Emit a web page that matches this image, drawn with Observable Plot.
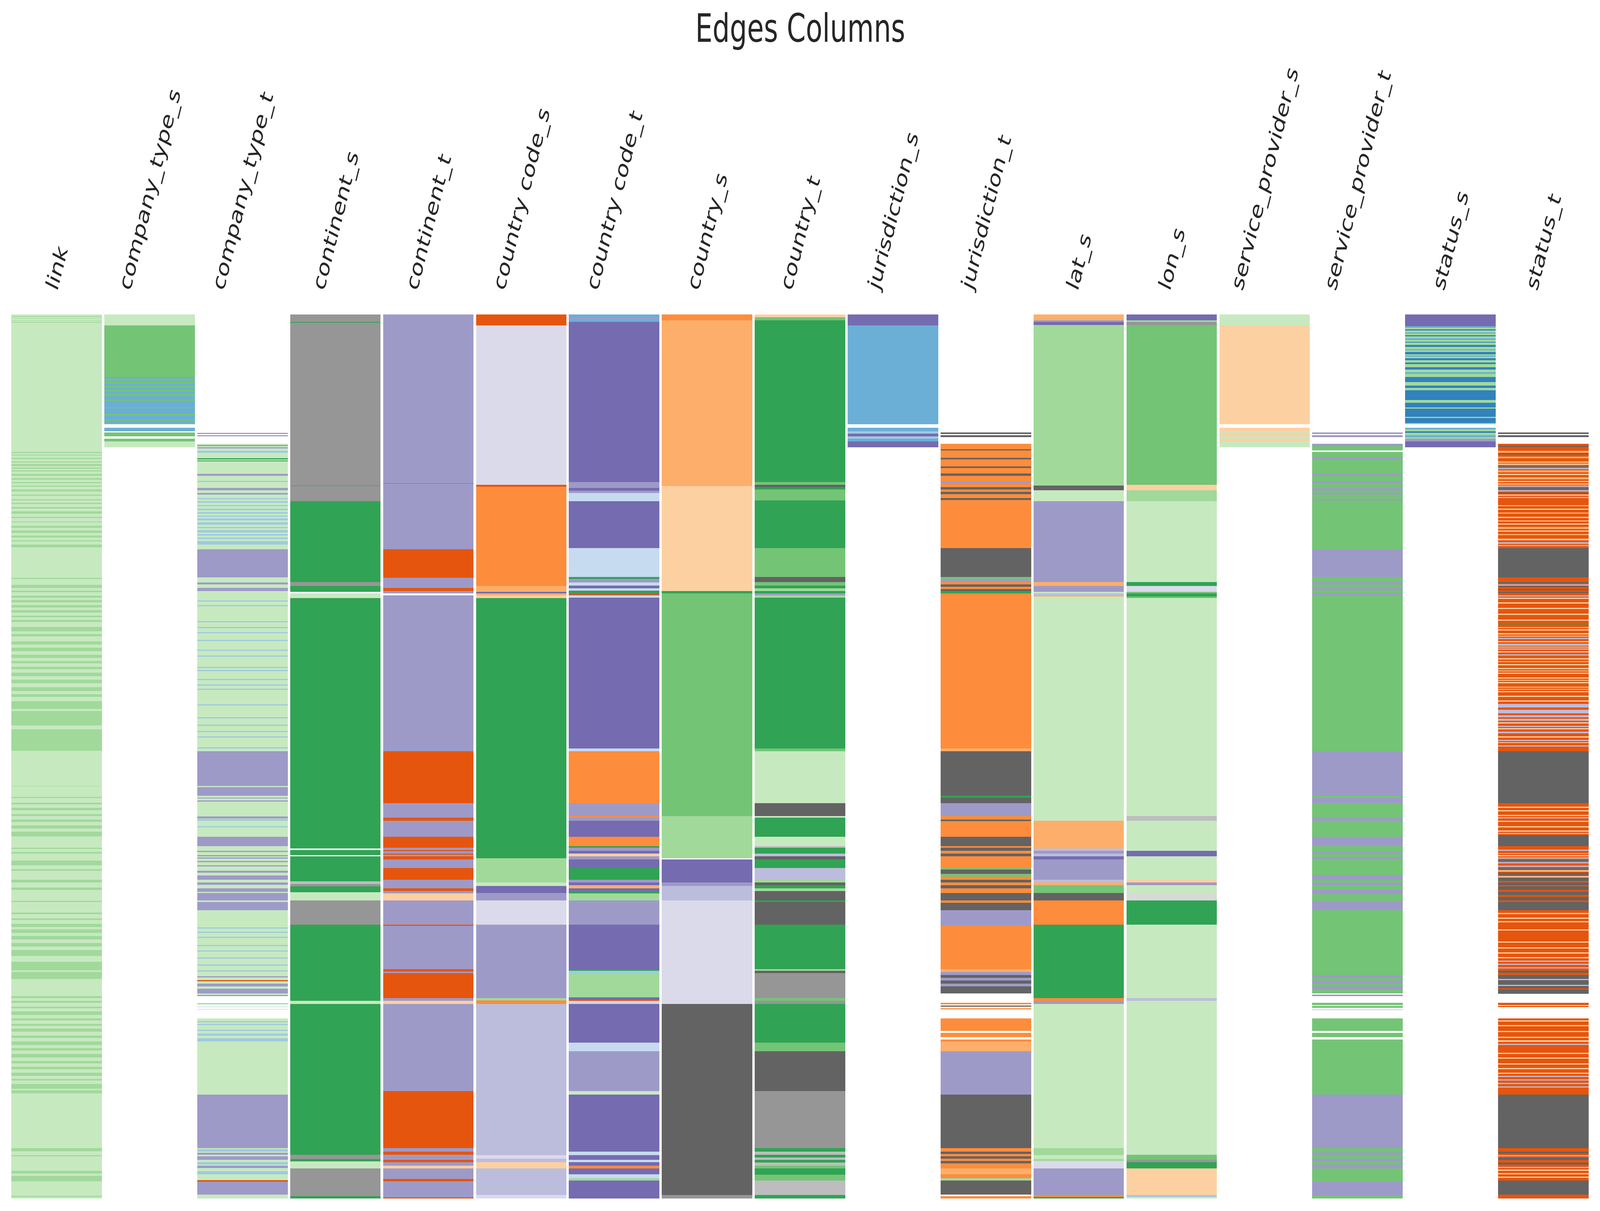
<!DOCTYPE html>
<html><head><meta charset="utf-8">
<script src="https://cdn.jsdelivr.net/npm/d3@7"></script>
<script src="https://cdn.jsdelivr.net/npm/@observablehq/plot@0.6"></script>
<style>
html,body{margin:0;padding:0;background:#fff;overflow:hidden}
#chart{width:100vw;height:100vh}
</style>
</head><body><div id="chart"></div>
<script>
const columns = ["link","company_type_s","company_type_t","continent_s","continent_t","country code_s","country code_t","country_s","country_t","jurisdiction_s","jurisdiction_t","lat_s","lon_s","service_provider_s","service_provider_t","status_s","status_t"];
const rowCount = 1530;
const colorCodes = ["B1","B2","B3","B4","O1","O2","O3","O4","G1","G2","G3","G4","P1","P2","P3","P4","K1","K2","K3","K4"];
const colorHexes = ["#3182bd","#6baed6","#9ecae1","#c6dbef","#e6550d","#fd8d3c","#fdae6b","#fdd0a2","#31a354","#74c476","#a1d99b","#c7e9c0","#756bb1","#9e9ac8","#bcbddc","#dadaeb","#636363","#969696","#bdbdbd","#d9d9d9"];

const linkBase = [[0,1530,"G4"]];
const linkStripes = [[3,4],[6,7],[10,11],[13,14],
[238,240],[243,244],[248,250],[254,256],[259,262],[265,267],[270,272],[276,279],[283,286],[290,292],[296,298],[303,306],[312,314],[320,322],[326,328],[333,336],[341,345],[350,352],[358,360],[366,369],[374,378],[383,386],[391,393],[398,403],
[456,458],[468,473],[478,481],[487,490],[494,498],[503,507],[512,516],[521,524],[529,532],[541,548],[553,557],[566,571],[577,583],[589,594],[600,604],[610,614],[620,626],[632,638],[645,652],[657,662],[669,683],[686,711],[718,755],
[816,817],[835,837],[845,848],[854,858],[865,868],[874,878],[884,890],[895,903],
[923,925],[930,933],[945,953],[960,963],[978,983],[992,996],[1015,1017],
[1035,1038],[1045,1048],[1055,1060],[1064,1070],[1076,1082],[1088,1094],[1100,1110],[1120,1135],[1138,1150],
[1180,1183],[1188,1191],[1198,1201],[1206,1212],[1218,1222],[1228,1231],[1236,1241],[1248,1252],[1258,1264],[1270,1274],[1280,1286],[1292,1296],[1302,1306],[1312,1318],[1323,1326],[1332,1340],[1343,1348],
[1443,1448],[1455,1457],[1482,1487],[1491,1500],[1525,1527]];

const companyTypeS = [[0,19,"G4"],[19,190,"G2"],[108,111,"B2"],[114,116,"B2"],[120,123,"B2"],[127,130,"B2"],[134,137,"B2"],[141,148,"B2"],[150,160,"B2"],[162,172,"B2"],[175,182,"B2"],[184,188,"B2"],[196,202,"B2"],[204,211,"G2"],[215,220,"G2"],[220,230,"G4"]];

const companyTypeT = [[224,1180,"G4"],[1218,1530,"G4"],
[205,207,"P2"],[209,211,"P2"],[226,228,"P2"],[230,232,"P2"],[236,239,"B3"],[249,251,"G1"],[253,254,"G1"],[276,279,"P2"],[288,290,"B3"],[300,304,"P2"],[309,312,"P2"],
[318,320,"B3"],[323,326,"B3"],[330,332,"B3"],[336,339,"B3"],[342,345,"B3"],[348,350,"B3"],[353,356,"B3"],[360,364,"B3"],[368,370,"B3"],[373,377,"B3"],[380,383,"B3"],[386,389,"B3"],[392,398,"B3"],
[406,455,"P2"],[464,467,"P2"],[473,479,"P2"],
[495,497,"B3"],[503,505,"B3"],[531,533,"B3"],[541,543,"B3"],[550,552,"B3"],[563,565,"B3"],[580,582,"B3"],[590,592,"B3"],[610,612,"B3"],[615,617,"B3"],[631,633,"B3"],[640,642,"B3"],[648,650,"B3"],[675,677,"B3"],[697,699,"B3"],[710,712,"B3"],[721,723,"B3"],[730,732,"B3"],[749,751,"B3"],
[756,816,"P2"],[818,833,"P2"],[836,838,"P2"],[841,843,"P2"],[869,872,"P2"],[873,876,"B3"],[886,888,"B3"],[904,920,"P2"],
[928,930,"P2"],[936,938,"P2"],[940,942,"P2"],[946,948,"P2"],[953,955,"P2"],[963,966,"P2"],[971,978,"P2"],[983,987,"P2"],[993,999,"P2"],[1001,1014,"P2"],[1017,1031,"P2"],
[1061,1063,"B3"],[1068,1070,"B3"],[1077,1079,"B3"],[1091,1093,"B3"],[1101,1103,"B3"],[1113,1115,"B3"],[1125,1127,"B3"],[1135,1137,"B3"],
[1145,1147,"P2"],[1152,1154,"O1"],[1158,1163,"P2"],[1167,1175,"P2"],[1178,1180,"P2"],
[1192,1194,"G3"],[1198,1199,"B3"],[1202,1203,"P3"],
[1223,1225,"B3"],[1228,1230,"B3"],[1238,1240,"B3"],[1245,1248,"B3"],[1253,1258,"B3"],
[1350,1443,"P2"],[1445,1449,"B3"],[1451,1454,"P2"],[1457,1463,"P2"],[1467,1471,"B3"],[1473,1477,"P2"],[1483,1488,"B3"],[1498,1501,"O1"],[1501,1523,"P2"]];

const continentS = [[0,13,"K2"],[13,14,"G1"],[14,296,"K2"],[296,297,"G1"],[297,323,"K2"],[323,463,"G1"],[463,470,"K2"],[470,480,"G1"],[483,491,"G4"],[491,924,"G1"],[927,936,"G1"],[938,981,"G1"],[981,986,"K3"],[986,990,"K2"],[990,1000,"G1"],[1000,1014,"G4"],[1014,1056,"K2"],[1056,1188,"G1"],[1188,1193,"G4"],[1193,1454,"G1"],[1454,1462,"K2"],[1462,1466,"G1"],[1466,1478,"G4"],[1478,1526,"K2"],[1526,1530,"G1"]];

const continentT = [[0,292,"P2"],[292,293,"P1"],[293,406,"P2"],[406,456,"O1"],[456,473,"P2"],[473,479,"O1"],[479,483,"P2"],[486,756,"P2"],[756,846,"O1"],[846,871,"P2"],[871,876,"O1"],[876,904,"P2"],[904,923,"O1"],[923,938,"P2"],[927,929,"O1"],[933,935,"O1"],[938,943,"O1"],[943,958,"P2"],[958,978,"O1"],[978,993,"P2"],[993,998,"O1"],[998,1002,"P2"],[1002,1014,"O4"],[1014,1056,"P2"],[1056,1058,"O1"],[1058,1133,"P2"],[1133,1137,"O1"],[1137,1140,"P2"],[1140,1183,"O1"],[1183,1188,"P2"],[1188,1193,"O4"],[1193,1344,"P2"],[1344,1443,"O1"],[1443,1449,"P2"],[1449,1454,"O1"],[1454,1463,"P2"],[1463,1467,"O1"],[1467,1473,"P2"],[1473,1478,"O4"],[1478,1496,"P2"],[1496,1500,"O1"],[1500,1528,"P2"],[1528,1530,"O1"]];

const countryCodeS = [[0,19,"O1"],[19,295,"P4"],[295,298,"O1"],[298,470,"O2"],[470,480,"O3"],[480,483,"P1"],[483,486,"O3"],[486,491,"O4"],[491,941,"G1"],[941,983,"G3"],[983,989,"G4"],[989,1001,"P1"],[1001,1014,"P2"],[1014,1056,"P4"],[1056,1183,"P2"],[1183,1187,"G3"],[1187,1193,"O2"],[1193,1455,"P3"],[1455,1461,"P4"],[1461,1467,"P3"],[1467,1478,"O4"],[1478,1524,"P3"],[1524,1530,"P4"]];

const countryCodeT = [[0,5,"B2"],[5,9,"P2"],[9,13,"B2"],[13,290,"P1"],[290,300,"P2"],[300,305,"P1"],[305,309,"P2"],[309,323,"B4"],[323,404,"P1"],[404,454,"B4"],[454,458,"G1"],[458,464,"P2"],[464,469,"B4"],[469,474,"P1"],[474,478,"B4"],[478,482,"G1"],[482,484,"P1"],[484,486,"O1"],[486,490,"B4"],[490,751,"P1"],[751,756,"B4"],[756,846,"O2"],[846,868,"P2"],[868,871,"O2"],[871,876,"P2"],[876,904,"P1"],[904,920,"O2"],[920,923,"G1"],[923,928,"P2"],[928,933,"P1"],[933,938,"O4"],[938,943,"P2"],[943,958,"P1"],[958,978,"G1"],[978,983,"P2"],[983,988,"P1"],[988,993,"O3"],[993,998,"P1"],[998,1002,"G1"],[1002,1014,"G3"],[1014,1056,"P2"],[1056,1133,"P1"],[1133,1136,"G1"],[1136,1140,"B3"],[1140,1182,"G3"],[1182,1185,"P1"],[1185,1188,"O1"],[1188,1193,"B4"],[1193,1260,"P1"],[1260,1275,"B4"],[1275,1344,"P2"],[1344,1350,"G4"],[1350,1449,"P1"],[1449,1455,"B4"],[1455,1463,"P1"],[1463,1467,"B4"],[1467,1473,"P1"],[1473,1478,"O2"],[1478,1488,"P1"],[1488,1495,"B4"],[1495,1499,"G3"],[1499,1530,"P1"]];

const countryS = [[0,10,"O2"],[10,297,"O3"],[297,479,"O4"],[479,483,"G1"],[483,868,"G2"],[868,941,"G3"],[943,983,"P1"],[983,989,"P2"],[989,1014,"P3"],[1014,1193,"P4"],[1193,1524,"K1"],[1524,1530,"K2"]];

const countryT = [[0,5,"O4"],[5,10,"G2"],[10,290,"G1"],[290,295,"G2"],[295,299,"K1"],[299,303,"G1"],[303,322,"G2"],[322,404,"G1"],[404,454,"G2"],[454,463,"K1"],[463,469,"G2"],[469,474,"G1"],[474,479,"G3"],[479,483,"G1"],[483,486,"P2"],[486,490,"G3"],[490,751,"G1"],[751,756,"G2"],[756,846,"G4"],[846,868,"K1"],[868,871,"G4"],[871,904,"G1"],[904,920,"G4"],[920,923,"K3"],[923,933,"G1"],[933,938,"P3"],[938,943,"K1"],[943,958,"G1"],[958,978,"P3"],[978,983,"G3"],[983,988,"K1"],[988,993,"G1"],[993,998,"G3"],[998,1014,"K1"],[1014,1017,"G1"],[1017,1056,"K1"],[1056,1133,"G1"],[1133,1136,"G3"],[1136,1140,"K1"],[1140,1183,"K2"],[1183,1188,"G2"],[1188,1193,"K2"],[1193,1260,"G1"],[1260,1275,"G2"],[1275,1344,"K1"],[1344,1443,"K2"],[1443,1449,"G1"],[1449,1454,"K3"],[1454,1459,"G1"],[1459,1463,"K3"],[1463,1468,"G1"],[1468,1473,"K3"],[1473,1478,"G2"],[1478,1489,"G1"],[1489,1499,"G2"],[1499,1524,"K3"],[1524,1530,"G1"]];

const jurisdictionS = [[0,19,"P1"],[19,190,"B2"],[196,202,"B2"],[202,206,"B3"],[206,211,"P1"],[211,215,"B3"],[215,220,"B2"],[220,230,"P1"]];

const jurisdictionT = [[204,207,"K1"],[209,212,"K1"],
[224,233,"O2"],[233,235,"K1"],[235,248,"O2"],[248,251,"K1"],[251,263,"O2"],[263,266,"K1"],[266,275,"O2"],[275,279,"K1"],[279,289,"O2"],[289,293,"P2"],[293,299,"O2"],[299,303,"K1"],[303,307,"O2"],[307,311,"K1"],[311,318,"O2"],[318,321,"K1"],[321,404,"O2"],[404,454,"K1"],[454,458,"G2"],[458,463,"P2"],[463,467,"O2"],[467,471,"K1"],[471,475,"O2"],[475,479,"K1"],[479,483,"G1"],[483,751,"O2"],[751,756,"O3"],[756,833,"K1"],[833,836,"G1"],[836,846,"K1"],[846,868,"P2"],[868,874,"O2"],[874,877,"K1"],[877,904,"O2"],[904,920,"K1"],[920,923,"O2"],[923,928,"K1"],[928,933,"O2"],[933,938,"K1"],[938,958,"O2"],[958,961,"G2"],[961,968,"K1"],[968,973,"G2"],[973,978,"O2"],[978,983,"K1"],[983,988,"O2"],[988,993,"K1"],[993,1001,"O2"],[1001,1014,"K1"],[1014,1018,"O2"],[1018,1031,"K1"],[1031,1058,"P2"],[1058,1133,"O2"],[1133,1138,"O3"],[1138,1143,"P2"],[1143,1148,"K1"],[1148,1153,"P2"],[1153,1158,"K1"],[1158,1163,"P2"],[1163,1175,"K1"],
[1191,1194,"O2"],[1196,1198,"K1"],[1201,1203,"O2"],
[1218,1240,"O2"],[1243,1251,"O2"],[1255,1258,"O2"],[1258,1275,"O3"],[1275,1350,"P2"],[1350,1443,"K1"],[1443,1449,"O2"],[1449,1453,"K1"],[1453,1457,"O2"],[1457,1461,"K1"],[1461,1465,"O2"],[1465,1469,"K1"],[1469,1478,"O2"],[1478,1488,"O3"],[1488,1495,"O2"],[1495,1499,"G3"],[1499,1523,"K1"],[1526,1530,"O2"]];

const latS = [[0,10,"O3"],[10,13,"P2"],[13,18,"P1"],[18,296,"G3"],[296,304,"K1"],[304,323,"G4"],[323,463,"P2"],[463,470,"O3"],[470,480,"P2"],[480,483,"G4"],[483,486,"P3"],[486,488,"O3"],[488,876,"G4"],[876,924,"O3"],[924,928,"P3"],[928,933,"P2"],[933,938,"P3"],[938,943,"P1"],[943,978,"P2"],[978,983,"P3"],[983,988,"O3"],[988,1001,"G2"],[1001,1014,"K1"],[1014,1056,"O2"],[1056,1183,"G1"],[1183,1188,"O2"],[1188,1193,"P2"],[1193,1443,"G4"],[1443,1455,"G3"],[1455,1462,"G4"],[1462,1465,"G3"],[1465,1478,"P4"],[1478,1524,"P2"],[1524,1527,"O2"],[1527,1530,"G1"]];

const lonS = [[0,10,"P1"],[10,13,"G3"],[13,18,"K2"],[18,295,"G2"],[295,304,"O4"],[304,323,"G3"],[323,463,"G4"],[463,470,"G1"],[470,480,"P4"],[480,483,"G2"],[483,488,"G1"],[488,491,"G2"],[491,868,"G4"],[868,876,"K3"],[876,928,"G4"],[928,938,"P1"],[938,978,"G4"],[978,983,"O4"],[983,988,"P2"],[988,1001,"G4"],[1001,1014,"K4"],[1014,1056,"G1"],[1056,1183,"G4"],[1183,1188,"P3"],[1188,1454,"G4"],[1454,1463,"G2"],[1463,1467,"K2"],[1467,1478,"G1"],[1478,1524,"O4"],[1524,1527,"B3"],[1527,1530,"G4"]];

const serviceProviderS = [[0,19,"G4"],[19,190,"O4"],[196,202,"O4"],[202,205,"G4"],[205,211,"O4"],[211,215,"G4"],[215,220,"O4"],[220,230,"G4"]];

const serviceProviderT = [[204,207,"P2"],[209,212,"P2"],
[224,228,"P2"],[228,235,"G2"],[238,248,"G2"],[248,251,"P2"],[251,276,"G2"],[276,279,"P2"],[279,289,"G2"],[289,292,"P2"],[292,300,"G2"],[300,304,"P2"],[304,308,"G2"],[308,312,"P2"],[312,319,"G2"],[319,322,"P2"],[322,406,"G2"],[406,454,"P2"],[454,463,"G2"],[463,467,"P2"],[467,473,"G2"],[473,477,"P2"],[477,483,"G2"],[483,486,"P2"],[486,756,"G2"],[756,833,"P2"],[833,836,"G2"],[836,846,"P2"],[846,871,"G2"],[871,876,"P2"],[876,904,"G2"],[904,920,"P2"],[920,930,"G2"],[930,934,"P2"],[934,939,"G2"],[939,943,"P2"],[943,970,"G2"],[970,978,"P2"],[978,983,"G2"],[983,988,"P2"],[988,995,"G2"],[995,1003,"P2"],[1003,1015,"G2"],[1015,1031,"P2"],[1031,1143,"G2"],[1143,1148,"P2"],[1148,1153,"G2"],[1153,1158,"P2"],[1158,1163,"G2"],[1163,1168,"P2"],[1168,1175,"G2"],[1177,1180,"P2"],
[1191,1195,"G2"],[1197,1200,"G2"],[1202,1204,"P4"],
[1218,1240,"G2"],[1243,1251,"G2"],[1255,1350,"G2"],[1350,1443,"P2"],[1443,1450,"G2"],[1450,1454,"P2"],[1454,1461,"G2"],[1461,1466,"P2"],[1466,1471,"G2"],[1471,1478,"P2"],[1478,1501,"G2"],[1501,1525,"P2"],[1525,1530,"G2"]];

const statusS = [[0,20,"P1"],[20,190,"G3"],
[20,23,"B2"],[26,28,"B1"],[31,33,"B2"],[36,38,"B1"],[41,44,"B2"],[47,49,"B1"],[53,56,"B1"],[60,62,"B2"],[65,69,"B1"],[71,73,"B2"],[76,79,"B1"],[83,86,"B1"],[91,95,"B1"],[100,103,"B2"],[108,117,"B1"],[123,127,"B1"],[131,148,"B1"],[153,161,"B1"],[163,177,"B1"],[179,188,"B1"],
[196,199,"B2"],[199,202,"G3"],[202,205,"B1"],[205,209,"G3"],[209,212,"B2"],[212,215,"G3"],[215,220,"P2"],[220,230,"P1"]];

const statusT = [[204,207,"K1"],[209,212,"K1"],[224,404,"O1"],[404,455,"K1"],[455,756,"O1"],[756,846,"K1"],[846,901,"O1"],[901,920,"K1"],[920,983,"O1"],[983,1031,"K1"],[1031,1143,"O1"],[1143,1176,"K1"],[1191,1195,"O1"],[1197,1199,"O1"],[1218,1350,"O1"],[1350,1443,"K1"],[1443,1530,"O1"],
[227,229,"K1"],[240,242,"K1"],[262,264,"K1"],[300,303,"K1"],[308,310,"K1"],
[236,239,"O3"],[246,249,"O3"],[254,257,"O3"],[270,273,"O3"],[282,285,"O3"],[292,295,"O3"],[330,332,"O3"],[343,345,"O3"],[356,358,"O3"],[368,371,"O3"],[380,382,"O3"],
[258,260,"O4"],[276,278,"O4"],[288,290,"O4"],[312,314,"O4"],[336,338,"O4"],[350,352,"O4"],[362,364,"O4"],[374,376,"O4"],[388,391,"O4"],
[266,268,"P3"],[296,298,"P3"],[304,306,"P3"],[316,318,"P3"],[394,397,"P3"],[399,401,"P3"],
[463,465,"K1"],[470,472,"K1"],[475,477,"K1"],[480,482,"K1"],
[467,469,"P3"],[486,488,"P3"],[560,562,"P3"],[570,573,"P3"],[578,580,"P3"],[588,590,"P3"],[674,680,"P3"],[684,690,"P3"],[694,697,"P3"],[700,703,"P3"],[712,714,"P3"],[722,725,"P3"],[736,738,"P3"],[746,748,"P3"],
[490,492,"O4"],[498,500,"O4"],[508,510,"O4"],[518,520,"O4"],[528,530,"O4"],[545,547,"O4"],[552,554,"O4"],[565,567,"O4"],[583,585,"O4"],[595,597,"O4"],[605,607,"O4"],[612,614,"O4"],[620,622,"O4"],[628,630,"O4"],[636,638,"O4"],[644,646,"O4"],[652,654,"O4"],[660,662,"O4"],[668,670,"O4"],[706,708,"O4"],[716,718,"O4"],[730,732,"O4"],[740,742,"O4"],
[537,539,"G1"],
[541,543,"O3"],[556,558,"O3"],[575,577,"O3"],[600,602,"O3"],[616,618,"O3"],[632,634,"O3"],[648,650,"O3"],
[852,854,"O4"],[858,860,"O4"],[866,868,"O4"],[876,878,"O4"],[886,888,"O4"],[893,895,"O4"],[870,872,"P3"],[897,899,"P3"],
[926,928,"P3"],[932,934,"P3"],[940,942,"P3"],[948,950,"P3"],[954,956,"P3"],[944,946,"K1"],[958,960,"K1"],[966,970,"K1"],[975,980,"K1"],[936,938,"O4"],[962,964,"O4"],[972,974,"O4"],
[988,990,"O1"],[996,999,"O1"],[1005,1008,"O1"],[1014,1017,"O1"],
[1036,1038,"O4"],[1044,1046,"O4"],[1050,1052,"O4"],[1064,1066,"O4"],[1085,1087,"O4"],[1095,1097,"O4"],[1104,1106,"O4"],[1112,1114,"O4"],[1118,1120,"P3"],[1124,1126,"P3"],[1130,1132,"P3"],[1136,1139,"K1"],
[1150,1152,"P3"],[1160,1162,"P3"],[1166,1168,"O1"],
[1222,1224,"O4"],[1230,1232,"O4"],[1240,1242,"O4"],[1250,1252,"O4"],[1256,1259,"O4"],[1278,1280,"O4"],[1286,1288,"O4"],[1296,1298,"O4"],[1304,1306,"O4"],[1312,1314,"O4"],[1262,1264,"P3"],[1318,1320,"P3"],[1324,1326,"P3"],[1330,1332,"P3"],[1336,1338,"P3"],
[1449,1452,"K1"],[1460,1463,"K1"],[1468,1471,"K1"],[1455,1457,"P3"],[1475,1477,"P3"],[1480,1482,"O4"],[1486,1488,"O4"],[1492,1494,"O4"],[1499,1523,"K1"]];

const link = linkBase.concat(linkStripes.map(([a, b]) => [a, b, "G3"]));
const columnData = [link, companyTypeS, companyTypeT, continentS, continentT, countryCodeS, countryCodeT, countryS, countryT, jurisdictionS, jurisdictionT, latS, lonS, serviceProviderS, serviceProviderT, statusS, statusT];
const cells = columns.flatMap((c, i) => columnData[i].map(([y1, y2, code]) => ({column: c, y1, y2, code})));

const W = 5872, H = 3100;
const labelRotate = -70;
const plot = Plot.plot({
  width: W, height: H,
  marginTop: 805, marginBottom: 32, marginLeft: 34, marginRight: 33,
  x: {domain: columns, paddingInner: 0.0263, paddingOuter: 0, axis: null},
  y: {domain: [0, rowCount], reverse: true, axis: null},
  color: {type: "ordinal", domain: colorCodes, range: colorHexes},
  style: {fontFamily: "'DejaVu Sans', sans-serif", background: "white"},
  marks: [
    Plot.barY(cells, {x: "column", y1: "y1", y2: "y2", fill: "code", shapeRendering: "crispEdges"}),
    Plot.text(columns, {x: d => d, text: d => d, frameAnchor: "top", rotate: labelRotate, textAnchor: "middle", lineAnchor: "middle", fontSize: 65, fill: "#262626"}),
    Plot.text(["Edges Columns"], {frameAnchor: "top", dy: -731, text: d => d, fontSize: 100, fill: "#262626", lineAnchor: "middle"})
  ]
});
// the chart is laid out in a 5872×3100 coordinate system and fills whatever window it is shown in
plot.setAttribute("viewBox", `0 0 ${W} ${H}`);
plot.setAttribute("preserveAspectRatio", "none");
plot.style.width = "100vw";
plot.style.height = "100vh";
plot.style.maxWidth = "none";
plot.style.display = "block";
document.getElementById("chart").append(plot);

// Align each rotated label like matplotlib (ha="center", va="bottom"):
// keep Plot's x (the column centre), centre the rotated box on it and put its bottom at a fixed height.
const labelBottom = 752;
const th = labelRotate * Math.PI / 180;
plot.querySelectorAll("text").forEach((el) => {
  if (columns.indexOf(el.textContent) < 0) return;
  const m = /translate\(\s*([-\d.e]+)[ ,]+([-\d.e]+)\s*\)/.exec(el.getAttribute("transform") || "");
  if (!m) return;
  const cx = +m[1];
  el.setAttribute("transform", `rotate(${labelRotate})`);
  const b = el.getBBox();
  const pts = [[b.x, b.y], [b.x + b.width, b.y], [b.x, b.y + b.height], [b.x + b.width, b.y + b.height]]
    .map(([x, y]) => [x * Math.cos(th) - y * Math.sin(th), x * Math.sin(th) + y * Math.cos(th)]);
  const minX = Math.min(...pts.map(p => p[0])), maxX = Math.max(...pts.map(p => p[0]));
  const maxY = Math.max(...pts.map(p => p[1]));
  el.setAttribute("transform", `translate(${cx - (minX + maxX) / 2},${labelBottom - maxY}) rotate(${labelRotate})`);
});
</script>
</body></html>
